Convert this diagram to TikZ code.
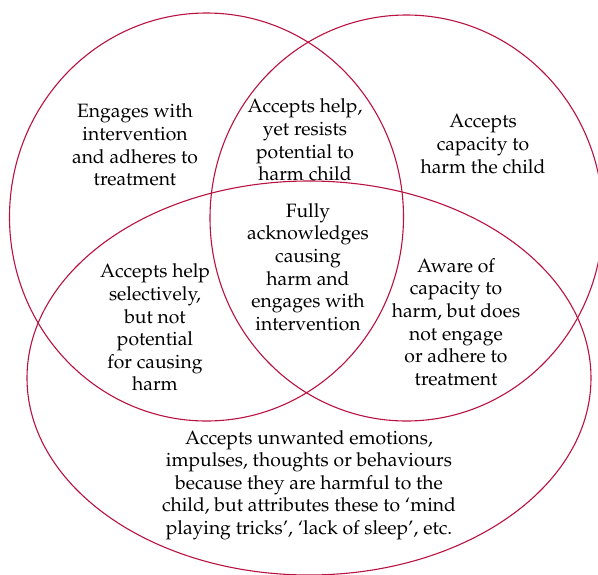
\documentclass[tikz,border=0pt]{standalone}
\usepackage[T1]{fontenc}
\renewcommand{\rmdefault}{ppl}
\definecolor{vennred}{RGB}{185,18,65}
\tikzset{
  venn/.style={draw=vennred, line width=1.1pt},
  lbl/.style={align=center, inner sep=0pt, font=\fontsize{19.3}{22.6}\selectfont}
}
\begin{document}
\begin{tikzpicture}[x=1pt,y=-1pt]
\useasboundingbox (0,0) rectangle (598,574);
\begin{scope}
\clip (0,0) rectangle (598,574);
\draw[venn] (206.5,217) ellipse [x radius=197pt, y radius=204pt];
\draw[venn] (406.5,218) ellipse [x radius=196.5pt, y radius=203pt];
\draw[venn] (309,378) ellipse [x radius=282pt, y radius=197pt];
\end{scope}
\node[lbl] (engages) at (135,145) {Engages with\\intervention\\and adheres to\\treatment};
\node[lbl] (resists) at (305,140) {Accepts help,\\yet resists\\potential to\\harm child};
\node[lbl] (capacity) at (483,144) {Accepts\\capacity to\\harm the child};
\node[lbl] (fully) at (308,267) {Fully\\acknowledges\\causing\\harm and\\engages with\\intervention};
\node[lbl] (selective) at (155,327.5) {Accepts help\\selectively,\\but not\\potential\\for causing\\harm};
\node[lbl] (aware) at (456,322) {Aware of\\capacity to\\harm, but does\\not engage\\or adhere to\\treatment};
\node[lbl] (unwanted) at (309,485) {Accepts unwanted emotions,\\impulses, thoughts or behaviours\\because they are harmful to the\\child, but attributes these to `mind\\playing tricks', `lack of sleep', etc.};
\end{tikzpicture}
\end{document}
